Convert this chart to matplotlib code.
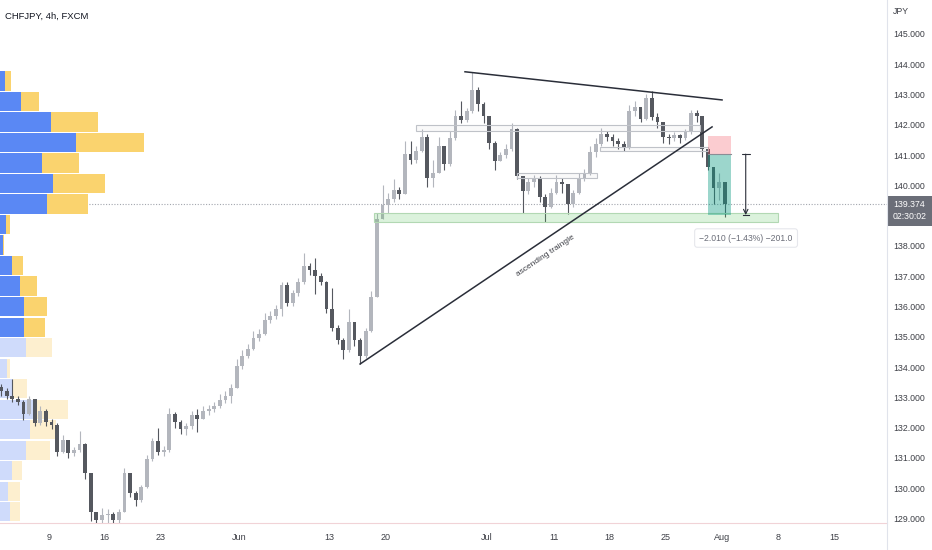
import numpy as np
import matplotlib
matplotlib.use('Agg')
import matplotlib.pyplot as plt
from matplotlib.patches import Rectangle
from matplotlib.lines import Line2D

plt.rcParams['font.family'] = ['Liberation Sans Narrow', 'Liberation Sans', 'DejaVu Sans']

# CHFJPY 4h, two bars per trading day (x = trading days since May 9)
first_open = 133.35
closes = [133.20, 133.05, 132.95, 132.85, 132.45, 132.95, 132.15, 132.55, 132.20, 132.10,
          131.20, 131.60, 131.15, 131.25, 131.45, 130.50, 129.20, 128.95, 129.10, 129.15,
          128.95, 129.20, 130.50, 129.85, 129.60, 130.05, 130.95, 131.55, 131.20, 131.25,
          132.45, 132.20, 131.95, 132.05, 132.40, 132.30, 132.55, 132.60, 132.70, 132.90,
          133.05, 133.30, 134.05, 134.35, 134.60, 134.95, 135.10, 135.55, 135.70, 135.90,
          136.70, 136.10, 136.45, 136.80, 137.35, 137.20, 137.00, 136.80, 135.90, 135.30,
          134.90, 134.55, 135.50, 134.90, 134.35, 135.20, 136.30, 138.90, 139.35, 139.55,
          139.85, 139.70, 141.05, 140.85, 141.15, 141.60, 140.25, 140.40, 141.30, 140.70,
          141.55, 142.30, 142.15, 142.45, 143.15, 142.70, 142.30, 141.40, 140.80, 141.00,
          141.20, 141.85, 140.30, 139.80, 140.10, 140.20, 139.60, 139.30, 139.75, 140.10,
          140.05, 139.40, 139.75, 140.25, 140.40, 141.10, 141.35, 141.70, 141.60, 141.45,
          141.35, 141.25, 142.45, 142.60, 142.20, 142.90, 142.25, 142.10, 141.60, 141.55,
          141.65, 141.55, 141.75, 142.40, 142.30, 141.20, 140.60, 139.90, 140.10, 139.374]
highs = [133.45, 133.30, 133.60, 133.05, 132.90, 133.05, 132.90, 132.70, 132.60, 132.30,
         132.15, 131.75, 131.60, 131.35, 131.90, 131.50, 130.50, 129.15, 129.35, 129.30,
         129.20, 129.30, 130.65, 130.45, 129.90, 130.10, 131.10, 131.65, 132.00, 131.40,
         132.65, 132.50, 132.25, 132.15, 132.55, 132.60, 132.70, 132.75, 132.85, 133.10,
         133.20, 133.45, 134.25, 134.55, 134.75, 135.20, 135.25, 135.80, 135.85, 136.05,
         136.80, 136.80, 136.55, 136.95, 137.75, 137.45, 137.60, 137.10, 136.85, 136.60,
         135.40, 134.95, 135.90, 135.40, 134.95, 135.30, 136.50, 139.10, 140.00, 139.75,
         140.20, 139.95, 141.45, 141.45, 141.30, 141.85, 141.70, 140.85, 141.60, 141.30,
         141.80, 142.50, 142.80, 142.55, 143.75, 143.25, 142.75, 142.30, 141.45, 141.10,
         141.35, 142.05, 141.90, 140.30, 140.25, 140.35, 140.30, 139.70, 139.90, 140.35,
         140.25, 140.05, 139.85, 140.40, 140.55, 141.30, 141.55, 141.90, 141.80, 141.70,
         141.55, 141.45, 142.65, 142.80, 142.55, 143.00, 143.10, 142.40, 141.95, 141.70,
         141.75, 141.70, 141.85, 142.50, 142.50, 142.30, 141.10, 140.50, 140.40, 140.00]
lows = [133.05, 132.95, 132.85, 132.75, 132.25, 132.40, 132.05, 132.10, 132.05, 131.95,
        131.05, 131.15, 131.00, 131.05, 131.20, 130.30, 128.90, 128.60, 128.80, 128.85,
        128.70, 128.80, 129.20, 129.70, 129.40, 129.55, 130.00, 130.90, 131.10, 131.05,
        131.20, 132.00, 131.80, 131.75, 131.95, 131.85, 132.30, 132.40, 132.50, 132.65,
        132.80, 132.80, 133.30, 133.95, 134.30, 134.55, 134.85, 135.05, 135.45, 135.60,
        135.70, 136.00, 136.00, 136.35, 136.75, 137.05, 136.40, 136.70, 135.80, 135.20,
        134.75, 134.25, 134.50, 134.70, 134.10, 134.30, 135.15, 136.30, 138.90, 139.10,
        139.45, 139.55, 139.70, 140.70, 140.75, 141.10, 139.95, 139.95, 140.40, 140.50,
        140.65, 141.50, 142.05, 142.10, 142.40, 142.45, 142.05, 141.20, 140.50, 140.80,
        140.90, 141.15, 140.20, 139.10, 139.70, 139.95, 139.45, 138.80, 139.25, 139.70,
        139.75, 139.05, 139.30, 139.70, 140.15, 140.35, 140.95, 141.30, 141.45, 141.30,
        141.20, 141.15, 141.20, 142.30, 142.10, 142.15, 142.15, 141.90, 141.40, 141.35,
        141.45, 141.40, 141.50, 141.70, 142.10, 140.95, 140.50, 139.40, 139.50, 138.95]

# visible range volume profile (rows from the top, up / down volume)
vp_top = 143.78
vp_step = 0.677
vp_up = [5, 21, 51, 76, 42, 53, 47, 6, 3, 12, 20, 24, 24, 26, 7, 13, 33, 30, 26, 12, 8, 10, 10]
vp_down = [6, 18, 47, 68, 37, 52, 41, 4, 1, 11, 17, 23, 21, 26, 3, 14, 35, 26, 24, 10, 12, 10, 10]
vp_value_rows = 13

price_ticks = [129, 130, 131, 132, 133, 134, 135, 136, 137, 138, 140, 141, 142, 143, 144, 145]
date_ticks = [0, 5, 10, 17, 25, 30, 39, 45, 50, 55, 60, 65, 70]
date_labels = ['9', '16', '23', 'Jun', '13', '20', 'Jul', '11', '18', '25', 'Aug', '8', '15']

# drawings (trading day, price)
desc_line = ([37.10, 60.01], [143.75, 142.82])
asc_line = ([27.75, 59.12], [134.10, 141.93])
gray_zones = [(32.74, 58.05, 141.80, 141.99), (49.14, 58.76, 141.14, 141.27), (41.74, 48.87, 140.24, 140.41)]
support_zone = (28.99, 65.0, 138.79, 139.10)
entry, stop, target = 141.03, 141.63, 139.02
pos_days = (58.76, 60.81)
measure_day = 62.12

UP = '#b3b6bd'
DOWN = '#55585f'
TXT = '#3d3f46'

fig = plt.figure(figsize=(9.32, 5.5), dpi=100)
rect = [0, 27 / 550, 887 / 932, 523 / 550]
vp_ax = fig.add_axes(rect, zorder=0)
ax = fig.add_axes(rect, zorder=1, sharey=vp_ax)
ax.patch.set_visible(False)

ax.set_xlim(-4.34, 74.71)
ax.set_ylim(128.85, 146.12)

closes = np.array(closes)
opens = np.concatenate([[first_open], closes[:-1]])
bar_day = -4.25 + 0.5 * np.arange(len(closes))
colors = np.where(closes >= opens, UP, DOWN)

# last price line and volume profile underneath the candles
vp_ax.axhline(closes[-1], color='#a3a6ae', lw=0.8, ls=(0, (1, 1.5)), zorder=1)
up = np.array(vp_up)
down = np.array(vp_down)
total = up + down
rows = vp_top - vp_step * (np.arange(len(up)) + 0.5)
strong = np.arange(len(up)) < vp_value_rows
vp_ax.set_xlim(0, total.max() / 0.1623)
vp_ax.barh(rows, up, height=vp_step * 0.94, left=0,
           color=np.where(strong, '#5a88f4', '#cfdbfb'), zorder=2)
vp_ax.barh(rows, down, height=vp_step * 0.94, left=up,
           color=np.where(strong, '#fad36e', '#fdefcf'), zorder=2)
vp_ax.axis('off')

# candles
ax.vlines(bar_day, lows, highs, colors=colors, lw=0.8, zorder=3)
ax.bar(bar_day, np.maximum(np.abs(closes - opens), 0.03), bottom=np.minimum(opens, closes),
       width=0.34, color=colors, linewidth=0, zorder=3)

# zones
for x0, x1, y0, y1 in gray_zones:
    ax.add_patch(Rectangle((x0, y0), x1 - x0, y1 - y0, fc=(0.6, 0.6, 0.65, 0.06),
                           ec='#bfc2c8', lw=0.8, zorder=4))
x0, x1, y0, y1 = support_zone
ax.add_patch(Rectangle((x0, y0), x1 - x0, y1 - y0, fc=(0.3, 0.75, 0.32, 0.2),
                       ec='#b2d8b3', lw=0.8, zorder=4))

# short position tool
ax.add_patch(Rectangle((pos_days[0], entry), pos_days[1] - pos_days[0], stop - entry,
                       fc=(0.95, 0.21, 0.27, 0.25), lw=0, zorder=4))
ax.add_patch(Rectangle((pos_days[0], target), pos_days[1] - pos_days[0], entry - target,
                       fc=(0.03, 0.6, 0.5, 0.4), lw=0, zorder=4))
ax.plot(pos_days, [entry, entry], color='#8a8d95', lw=0.8, zorder=5)

# trend lines
ax.plot(*desc_line, color='#2a2e39', lw=1.1, zorder=5)
ax.plot(*asc_line, color='#2a2e39', lw=1.1, zorder=5)
ax.text(44.32, 137.67, 'ascending traingle', rotation=34, rotation_mode='anchor',
        ha='center', va='center', fontsize=6, color=TXT, zorder=6)

# measure
ax.annotate('', xy=(measure_day, target), xytext=(measure_day, entry),
            arrowprops=dict(arrowstyle=']->,widthA=0.35,lengthA=0',
                            color='#2a2e39', lw=0.8, shrinkA=0, shrinkB=0,
                            mutation_scale=8), zorder=6)
ax.plot([measure_day - 0.25, measure_day + 0.25], [target, target], color='#2a2e39', lw=0.8, zorder=6)
ax.text(62.15, 138.26, '\u22122.010 (\u22121.43%) \u2212201.0', ha='center', va='center',
        fontsize=6.2, color='#6a6d78', zorder=6,
        bbox=dict(boxstyle='round,pad=0.55,rounding_size=0.3', fc='white', ec='#e6e7ec', lw=0.8))

# axes styling
for s in ['top', 'left', 'right']:
    ax.spines[s].set_visible(False)
ax.spines['bottom'].set_color('#f1d3d7')
ax.spines['bottom'].set_linewidth(0.8)
ax.yaxis.tick_right()
ax.set_yticks(price_ticks)
ax.set_yticklabels([f'{v:.3f}' for v in price_ticks])
ax.tick_params(axis='y', length=0, pad=4.5, labelsize=6.3, labelcolor=TXT)
ax.set_xticks(date_ticks)
ax.set_xticklabels(date_labels)
ax.tick_params(axis='x', length=0, pad=7, labelsize=6.5, labelcolor=TXT)

fig.add_artist(Line2D([887 / 932, 887 / 932], [0, 1], transform=fig.transFigure,
                      color='#e0e3eb', lw=0.8))

# last price label on the scale
ax.add_patch(Rectangle((1.0, closes[-1] - 0.72), 45 / 887, 1.0,
                       transform=ax.get_yaxis_transform(), fc='#6b6e78', lw=0,
                       clip_on=False, zorder=7))
ax.text(1.0 + 6 / 887, closes[-1], f'{closes[-1]:.3f}', transform=ax.get_yaxis_transform(),
        ha='left', va='center', fontsize=6.3, color='white', zorder=8)
ax.text(1.0 + 6 / 887, closes[-1] - 0.41, '02:30:02', transform=ax.get_yaxis_transform(),
        ha='left', va='center', fontsize=6.3, color='white', zorder=8)

fig.text(5 / 932, 1 - 16 / 550, 'CHFJPY, 4h, FXCM', ha='left', va='center',
         fontsize=6.8, color='#131722')
fig.text(893 / 932, 1 - 12 / 550, 'JPY', ha='left', va='center', fontsize=6.3, color=TXT)

fig.savefig('out.png', dpi=100)
